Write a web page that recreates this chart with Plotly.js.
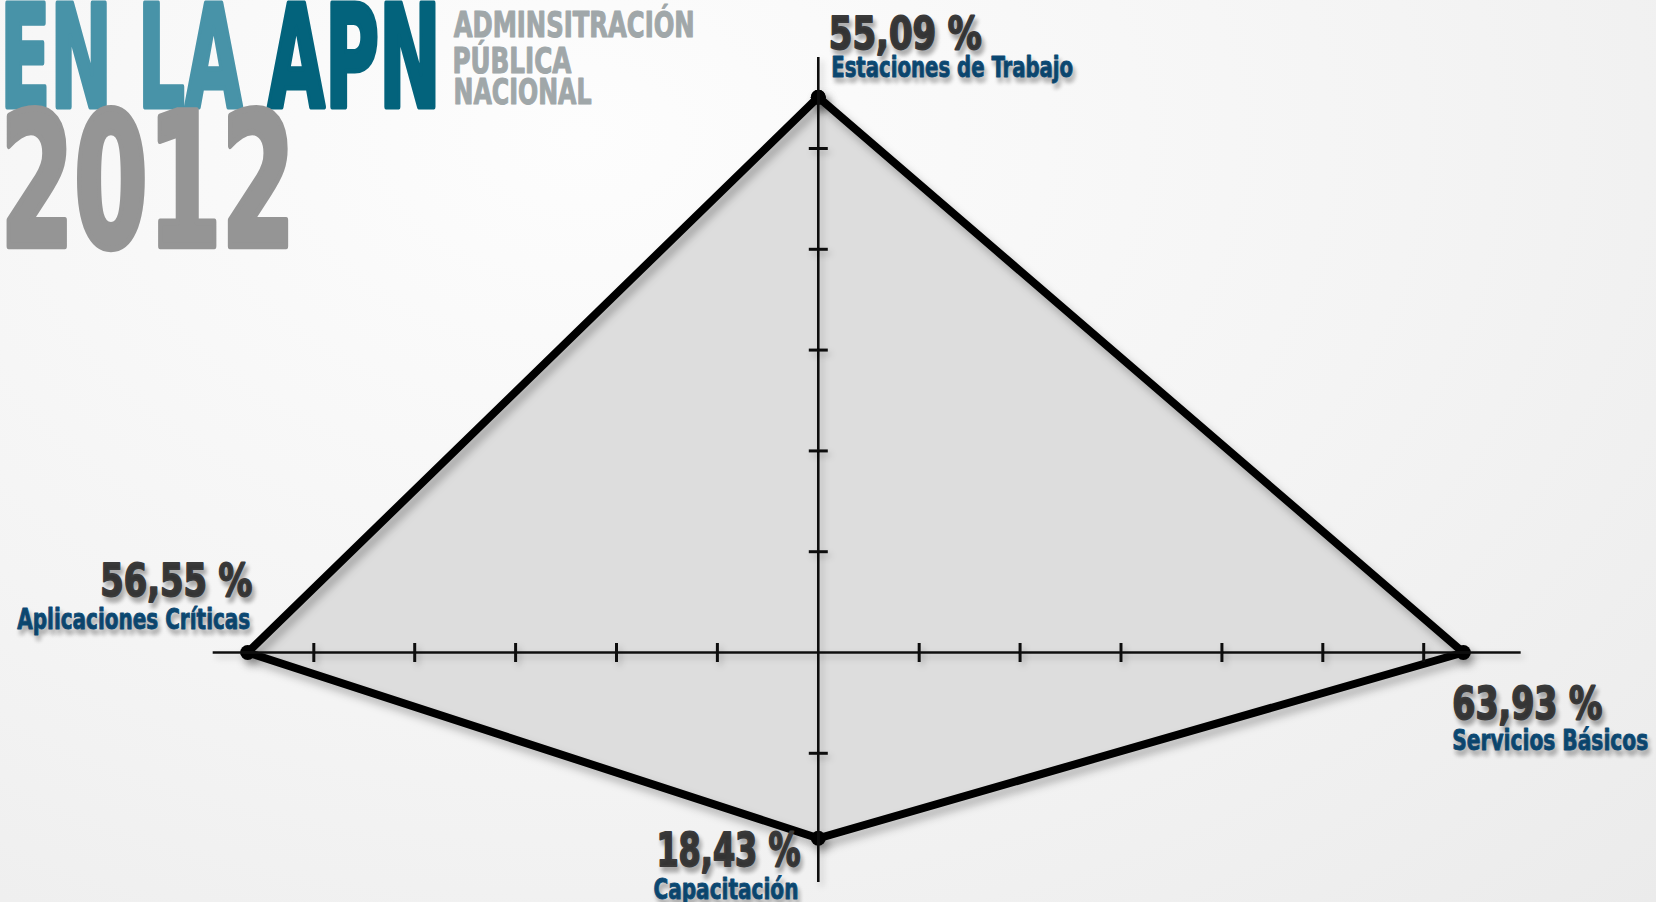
<!DOCTYPE html>
<html><head><meta charset="utf-8">
<script src="https://cdn.plot.ly/plotly-3.0.1.min.js"></script>
<style>
html,body{margin:0;padding:0;width:1656px;height:902px;overflow:hidden;
background: radial-gradient(ellipse at 35% 15%, #fdfdfd 0%, #f4f4f4 55%, #ebebeb 100%);}
#chart{width:1656px;height:902px;}
</style></head><body>
<svg width="0" height="0" style="position:absolute">
<defs>
<filter id="sh" filterUnits="userSpaceOnUse" x="-200" y="-200" width="2200" height="1400"><feDropShadow dx="4" dy="6" stdDeviation="4" flood-color="#000" flood-opacity="0.28"/></filter>
<filter id="sh2" filterUnits="userSpaceOnUse" x="-200" y="-200" width="2200" height="1400"><feDropShadow dx="3" dy="4" stdDeviation="3" flood-color="#000" flood-opacity="0.2"/></filter>
</defs></svg>
<div id="chart"></div>
<script>
// ---- data ----
const categories = ['Estaciones de Trabajo', 'Servicios Básicos', 'Capacitación', 'Aplicaciones Críticas'];
const values = [55.09, 63.93, 18.43, 56.55];
const valueLabels = ['55,09 %', '63,93 %', '18,43 %', '56,55 %'];
const xTicks = [-50, -40, -30, -20, -10, 10, 20, 30, 40, 50, 60];
const yTicks = [-10, 10, 20, 30, 40, 50];
const titleMain = ['EN LA ', 'APN'];
const titleSide = ['ADMINSITRACIÓN', 'PÚBLICA', 'NACIONAL'];
const titleYear = '2012';

// ---- layout helpers ----
const W = 1656, H = 902;
const dirs = [[0, 1], [1, 0], [0, -1], [-1, 0]]; // up, right, down, left
const xs = values.map((v, i) => v * dirs[i][0]);
const ys = values.map((v, i) => v * dirs[i][1]);
xs.push(xs[0]); ys.push(ys[0]);

const FONT = "'Liberation Sans Narrow', 'DejaVu Sans Condensed', 'Roboto Condensed', 'Liberation Sans', sans-serif";
const numColor = '#3a3a3a', catColor = '#0d4a74';
const shadow = '3px 5px 5px rgba(0,0,0,0.28)';

// label boxes in pixels: x0..x1 target width, y = cap centre, s = font size, k = extra stroke weight
const boxes = [
  {t: `<span style="color:#4893a8">${titleMain[0]}</span><span style="color:#03637c">${titleMain[1]}</span>`, x0: 0, x1: 441, y: 57, s: 142, c: '#4893a8', sh: 'none', k: 0.035},
  {t: titleSide[0], x0: 453, x1: 694, y: 25, s: 35, c: '#a0a7a9', sh: 'none', k: 0.03},
  {t: titleSide[1], x0: 453, x1: 572, y: 60, s: 35, c: '#a0a7a9', sh: 'none', k: 0.03},
  {t: titleSide[2], x0: 453, x1: 591, y: 92, s: 35, c: '#a0a7a9', sh: 'none', k: 0.03},
  {t: titleYear, x0: 0, x1: 295, y: 181.5, s: 186, c: '#959595', sh: 'none', k: 0.035},
  {t: valueLabels[0], x0: 829, x1: 982, y: 33.5, s: 44, c: numColor, sh: shadow, k: 0.04},
  {t: categories[0], x0: 831, x1: 1073, y: 67, s: 29, c: catColor, sh: shadow, k: 0.03},
  {t: valueLabels[3], x0: 100, x1: 252, y: 580, s: 44, c: numColor, sh: shadow, k: 0.04},
  {t: categories[3], x0: 17, x1: 250, y: 619.5, s: 28, c: catColor, sh: shadow, k: 0.03},
  {t: valueLabels[1], x0: 1452, x1: 1602, y: 703, s: 44, c: numColor, sh: shadow, k: 0.04},
  {t: categories[1], x0: 1452, x1: 1648, y: 740, s: 28, c: catColor, sh: shadow, k: 0.03},
  {t: valueLabels[2], x0: 656, x1: 800, y: 850, s: 46, c: numColor, sh: shadow, k: 0.04},
  {t: categories[2], x0: 653, x1: 798, y: 889.5, s: 28, c: catColor, sh: shadow, k: 0.03}
];

const annotations = boxes.map(b => ({
  xref: 'paper', yref: 'paper',
  x: ((b.x0 + b.x1) / 2) / W, y: 1 - b.y / H,
  xanchor: 'center', yanchor: 'middle',
  text: b.t, showarrow: false, borderpad: 0,
  font: {family: FONT, size: b.s, color: b.c, weight: 700, shadow: b.sh}
}));

// axis geometry (pixel scale: center 818.3,652.5 ; 10 units = ~100.9 px)
const cx = 818.3, cy = 652.5, kx = 10.09, ky = 10.08;
const xRange = [-cx / kx, (W - cx) / kx];
const yRange = [-(H - cy) / ky, cy / ky];

const axisStyle = {color: '#111', width: 2.6};
const shapes = [
  {type: 'line', xref: 'x', yref: 'y', x0: (212.7 - cx) / kx, x1: (1520.7 - cx) / kx, y0: 0, y1: 0, line: axisStyle, layer: 'above'},
  {type: 'line', xref: 'x', yref: 'y', x0: 0, x1: 0, y0: (cy - 57) / ky, y1: (cy - 882) / ky, line: axisStyle, layer: 'above'}
];
xTicks.forEach(t => shapes.push({type: 'line', xref: 'x', yref: 'y', x0: t, x1: t,
  ysizemode: 'pixel', yanchor: 0, y0: -9.5, y1: 9.5, line: {color: '#111', width: 3}, layer: 'above'}));
yTicks.forEach(t => shapes.push({type: 'line', xref: 'x', yref: 'y', y0: t, y1: t,
  xsizemode: 'pixel', xanchor: 0, x0: -9.5, x1: 9.5, line: {color: '#111', width: 3}, layer: 'above'}));

const traces = [{
  type: 'scatter', mode: 'lines+markers', x: xs, y: ys,
  fill: 'toself', fillcolor: '#dddddd',
  line: {color: '#000', width: 8, shape: 'linear'},
  marker: {color: '#000', size: 15},
  hoverinfo: 'skip', cliponaxis: false
}];

const layout = {
  width: W, height: H,
  margin: {l: 0, r: 0, t: 0, b: 0, pad: 0},
  paper_bgcolor: 'rgba(0,0,0,0)', plot_bgcolor: 'rgba(0,0,0,0)',
  xaxis: {range: xRange, visible: false, fixedrange: true},
  yaxis: {range: yRange, visible: false, fixedrange: true},
  showlegend: false, shapes: shapes, annotations: annotations
};

Plotly.newPlot('chart', traces, layout, {displayModeBar: false, staticPlot: true}).then(gd => {
  gd.querySelectorAll('g.annotation').forEach(g => {
    const i = +g.getAttribute('data-index');
    const b = boxes[i];
    const txt = g.querySelector('text.annotation-text');
    if (b && txt) {
      txt.setAttribute('textLength', b.x1 - b.x0);
      txt.setAttribute('lengthAdjust', 'spacingAndGlyphs');
      const sw = (b.s * b.k).toFixed(2) + 'px';
      [txt, ...txt.querySelectorAll('tspan')].forEach(el => {
        const f = getComputedStyle(el).fill;
        el.style.stroke = f;
        el.style.strokeWidth = sw;
        el.style.strokeLinejoin = 'round';
      });
    }
  });
  gd.querySelectorAll('.scatterlayer path.js-line, .scatterlayer .points path').forEach(p => p.style.filter = 'url(#sh)');
  gd.querySelectorAll('.shapelayer path').forEach(p => p.style.filter = 'url(#sh2)');
});
</script>
</body></html>
